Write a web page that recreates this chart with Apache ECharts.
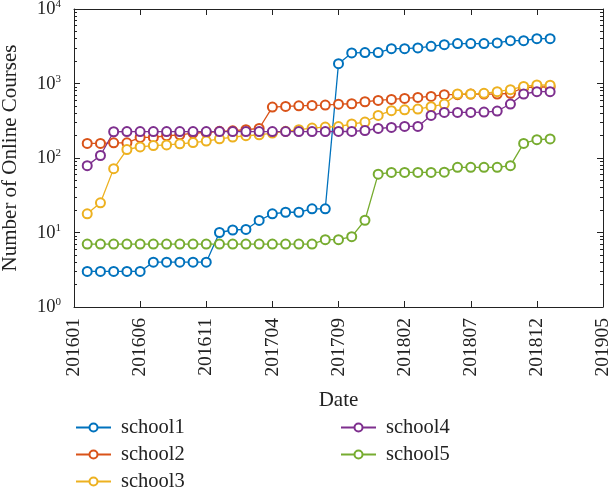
<!DOCTYPE html>
<html>
<head>
<meta charset="utf-8">
<script src="https://cdn.jsdelivr.net/npm/echarts@6/dist/echarts.min.js"></script>
<style>html,body{margin:0;padding:0;background:#fff;}#c{width:612px;height:493px;}</style>
</head>
<body>
<div id="c"></div>
<script>
// Axis categories (monthly, YYYYMM)
var months = ['201601','201602','201603','201604','201605','201606','201607','201608','201609','201610','201611','201612',
  '201701','201702','201703','201704','201705','201706','201707','201708','201709','201710','201711','201712',
  '201801','201802','201803','201804','201805','201806','201807','201808','201809','201810','201811','201812',
  '201901','201902','201903','201904','201905'];
// Months with data
var dataMonths = ['201602','201603','201604','201605','201606','201607','201608','201609','201610','201611','201612',
  '201701','201702','201703','201704','201705','201706','201707','201708','201709','201710','201711','201712',
  '201801','201802','201803','201804','201805','201806','201807','201808','201809','201810','201811','201812','201901'];
var school1 = [3,3,3,3,3, 4,4,4,4,4, 10,10.8,11,14.5,17.8,18.7,18.7,20.8,20.8,
  1846,2570,2600,2600,2937,2937,3000,3155,3324,3430,3430,3430,3500,3760,3760,4000,4000];
var school2 = [157,157,160,160,189,189,199,205,216,220,228,232,240,249,483,492,502,508,513,
  527,535,569,593,611,631,651,671,707,707,721,721,721,740,878,898,898];
var school3 = [17.8,25,72,130,141,147,150,155,161,169,181,191,199,205,216,228,240,252,260,
  264,286,304,373,431,444,454,488,530,723,723,738,776,826,914,955,950];
var school4 = [79,108,225,226,226,226,226,226,226,226,226,226,226,226,226,226,226,226,226,
  227,227,234,249,257,265,265,373,409,409,409,414,427,530,723,776,776];
var school5 = [7,7,7,7,7,7,7,7,7,7,7,7,7,7,7,7,7,7,8,
  8,8.8,14.6,60.7,64,64,64,64,64.5,75,75,75,75,79,157,176,180];
var seriesNames = ['school1','school2','school3','school4','school5'];
var seriesValues = [school1, school2, school3, school4, school5];
var colors = ['#0072BD','#D95319','#EDB120','#7E2F8E','#77AC30'];
var majorTicks = [1,10,100,1000,10000];
var minorTicks = [2,3,4,5,6,7,8,9,20,30,40,50,60,70,80,90,200,300,400,500,600,700,800,900,2000,3000,4000,5000,6000,7000,8000,9000];

var FONT = 'Liberation Serif';
var chart = echarts.init(document.getElementById('c'), null, {renderer:'canvas'});

function yAx(pos, ticks, len, showLabel, showLine, name) {
  return {
    type:'log', logBase:10, min:1, max:10000, position:pos,
    name: name || '', nameLocation:'middle', nameGap:53,
    nameTextStyle:{fontFamily:FONT, fontSize:21, color:'#222'},
    axisLine:{show:showLine, onZero:false, lineStyle:{color:'#222', width:1}},
    axisTick:{show:true, inside:true, length:len, customValues:ticks, lineStyle:{color:'#222', width:1}},
    axisLabel:{show:showLabel, customValues: showLabel ? ticks : undefined, margin:13,
      fontFamily:FONT, color:'#222',
      formatter:function(v){ return '{b|10}{s|' + Math.round(Math.log10(v)) + '}'; },
      rich:{ b:{fontFamily:FONT, fontSize:18.5, color:'#222', lineHeight:20, verticalAlign:'bottom', padding:[8,0,0,0]},
             s:{fontFamily:FONT, fontSize:11, color:'#222', lineHeight:20, verticalAlign:'top', padding:[0,0,8,0]} } },
    splitLine:{show:false}, minorTick:{show:false}
  };
}

var series = seriesNames.map(function(n, k){
  return {
    name:n, type:'line', xAxisIndex:0, yAxisIndex:0,
    data: dataMonths.map(function(m,i){ return [m, seriesValues[k][i]]; }),
    symbol:'emptyCircle', symbolSize:9, showAllSymbol:true,
    itemStyle:{color:colors[k], borderWidth:1.2},
    lineStyle:{color:colors[k], width:1.3},
    emphasis:{disabled:true}, animation:false
  };
});

var legendCommon = {
  orient:'vertical', itemWidth:35, itemHeight:10, itemGap:6, padding:0,
  textStyle:{fontFamily:FONT, fontSize:20.5, color:'#222', lineHeight:20, padding:[0,0,0,5]},
  selectedMode:false
};

chart.setOption({
  animation:false,
  backgroundColor:'#fff',
  color:colors,
  grid:{left:74, right:9, top:9, bottom:186, containLabel:false, outerBoundsMode:'none'},
  legend:[
    Object.assign({left:75, top:417, data:['school1','school2','school3']}, legendCommon),
    Object.assign({left:340, top:417, data:['school4','school5']}, legendCommon)
  ],
  xAxis:[
    { type:'category', data:months, boundaryGap:false, position:'bottom',
      name:'Date', nameLocation:'middle', nameGap:83,
      nameTextStyle:{fontFamily:FONT, fontSize:21, color:'#222'},
      axisLine:{onZero:false, lineStyle:{color:'#222', width:1}},
      axisTick:{inside:true, length:6, interval:4, lineStyle:{color:'#222'}},
      axisLabel:{interval:4, rotate:90, margin:11, fontFamily:FONT, fontSize:19.5, color:'#222'},
      splitLine:{show:false} },
    { type:'category', data:months, boundaryGap:false, position:'top',
      axisLine:{onZero:false, lineStyle:{color:'#222', width:1}},
      axisTick:{inside:true, length:6, interval:4, lineStyle:{color:'#222'}},
      axisLabel:{show:false}, splitLine:{show:false} }
  ],
  yAxis:[
    yAx('left', majorTicks, 6, true, true, 'Number of Online Courses'),
    yAx('left', minorTicks, 3, false, false),
    yAx('right', majorTicks, 6, false, true),
    yAx('right', minorTicks, 3, false, false)
  ],
  series:series
});
</script>
</body>
</html>
